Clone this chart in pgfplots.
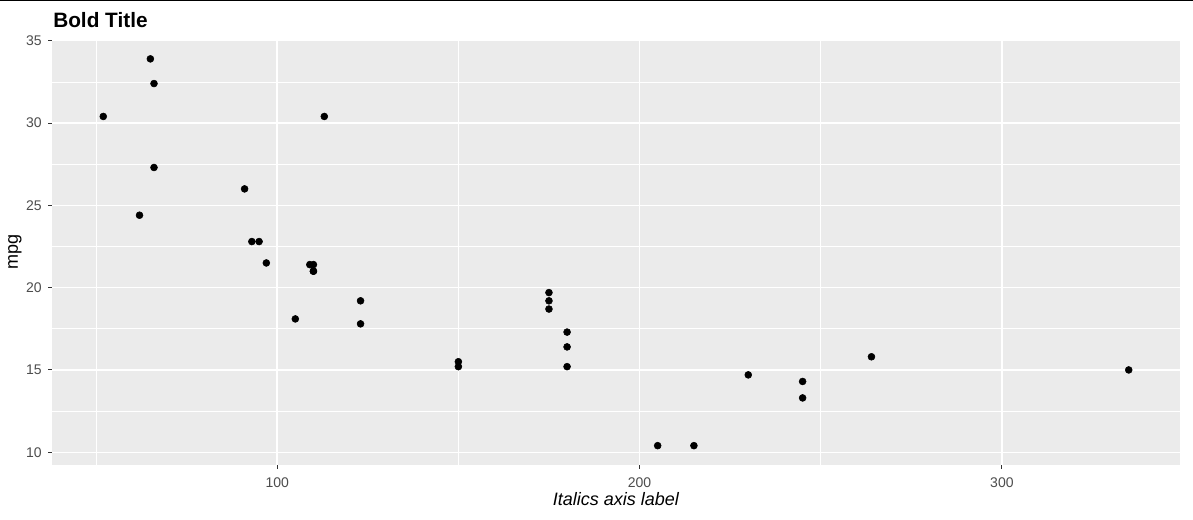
\documentclass[border=0pt]{standalone}
\usepackage{pgfplots}
\pgfplotsset{compat=1.18}
\usepackage{fontspec}
\setmainfont{Liberation Sans}
\definecolor{panelbg}{HTML}{EBEBEB}
\definecolor{ticklab}{HTML}{4D4D4D}
\definecolor{tickcol}{HTML}{333333}
\begin{document}
\begin{tikzpicture}
\useasboundingbox (0,0) rectangle (894.75pt,390pt);
\fill[white] (0,0) rectangle (894.75pt,390pt);
\begin{axis}[
  at={(39pt,41.25pt)}, anchor=south west,
  scale only axis, width=846pt, height=319.1pt,
  xmin=37.85, xmax=349.15, ymin=9.225, ymax=35.075,
  axis background/.style={fill=panelbg},
  axis line style={draw=none},
  xtick={100,200,300}, ytick={10,15,20,25,30,35},
  minor xtick={50,150,250}, minor ytick={12.5,17.5,22.5,27.5,32.5},
  grid=both,
  major grid style={white, line width=1.07pt},
  minor grid style={white, line width=0.53pt},
  tick align=outside, major tick length=2.75pt, minor tick length=0pt,
  tick style={tickcol, line width=0.8pt},
  xtick pos=bottom, ytick pos=left,
  /pgf/number format/assume math mode=true,
  xticklabel style={font=\fontsize{10.5}{12}\selectfont, text=ticklab, anchor=base, yshift=-14.5pt},
  yticklabel style={font=\fontsize{10.5}{12}\selectfont, text=ticklab, anchor=east, xshift=-1.5pt},
  xlabel={\itshape Italics axis label},
  ylabel={mpg},
  xlabel style={font=\fontsize{13.5}{16}\selectfont, at={(axis description cs:0.5,0)}, anchor=base, yshift=-30.75pt},
  ylabel style={font=\fontsize{13.5}{16}\selectfont, at={(axis description cs:0,0.5)}, anchor=center, yshift=27.75pt},
  clip=false,
]
\addplot[only marks, mark=*, mark size=2.6pt, black] coordinates {
(110,21.0) (110,21.0) (93,22.8) (110,21.4) (175,18.7) (105,18.1)
(245,14.3) (62,24.4) (95,22.8) (123,19.2) (123,17.8) (180,16.4)
(180,17.3) (180,15.2) (205,10.4) (215,10.4) (230,14.7) (66,32.4)
(52,30.4) (65,33.9) (97,21.5) (150,15.5) (150,15.2) (245,13.3)
(175,19.2) (66,27.3) (91,26.0) (113,30.4) (264,15.8) (175,19.7)
(335,15.0) (109,21.4)
};
\end{axis}
\node[anchor=base west, inner sep=0pt, font=\fontsize{15.6}{18}\selectfont\bfseries] at (39.75pt,369.4pt) {Bold Title};
\draw[black, line width=1.5pt] (0,390pt) -- (894.75pt,390pt);
\end{tikzpicture}
\end{document}
